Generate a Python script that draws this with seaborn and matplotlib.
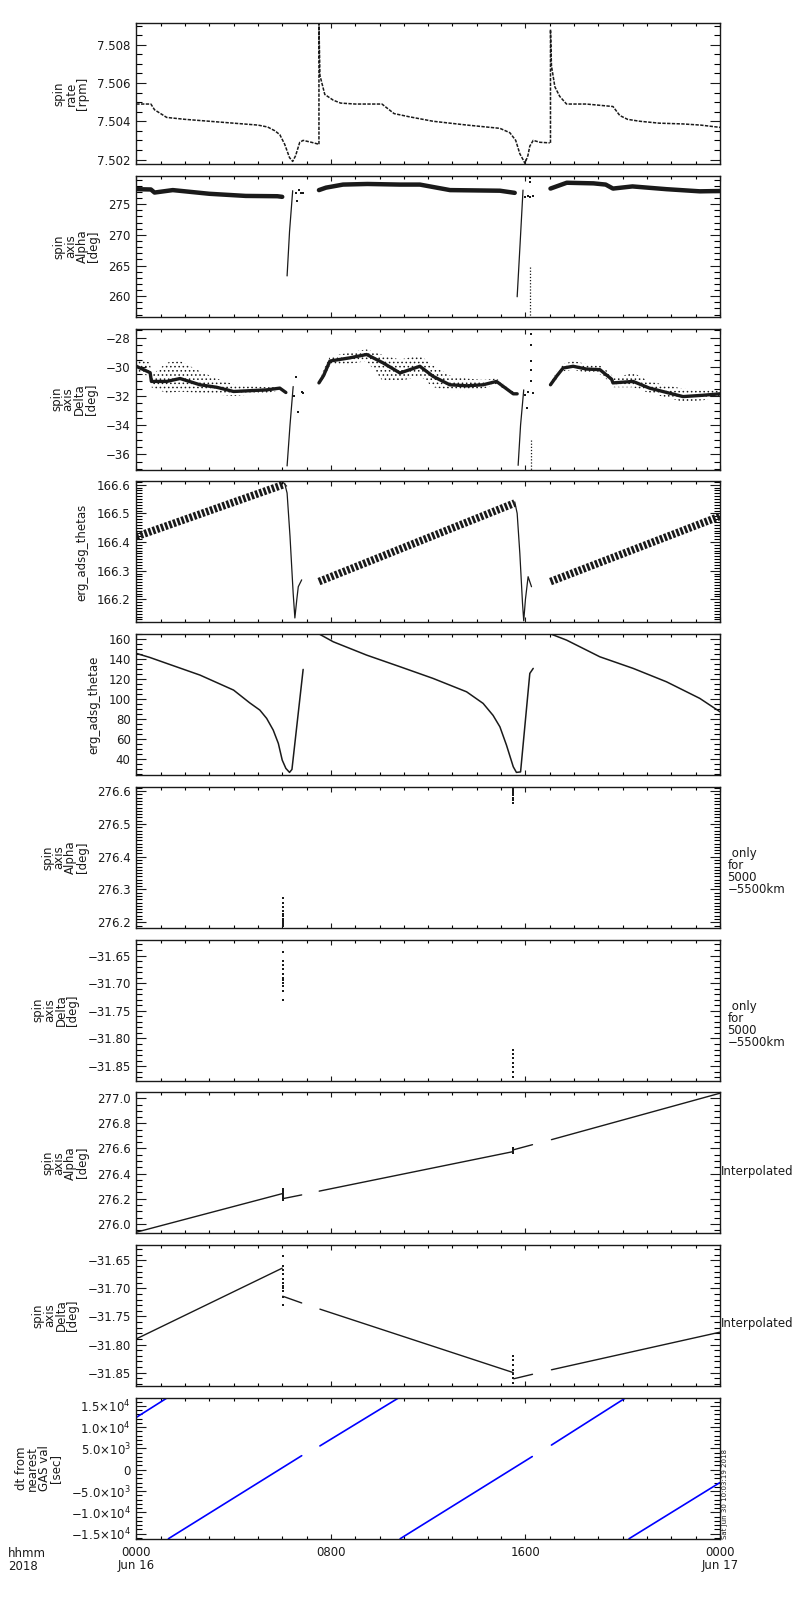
import matplotlib
matplotlib.use("Agg")
import matplotlib.pyplot as plt
import seaborn as sns
from matplotlib.ticker import MultipleLocator

sns.set_theme(style="white")
plt.rcParams["font.family"] = ["DejaVu Sans"]
plt.rcParams["hatch.linewidth"] = 0.6
for key in ("text.color", "axes.labelcolor", "xtick.color", "ytick.color", "axes.edgecolor"):
    plt.rcParams[key] = "black"

# ---------------- data (hours since 0000 Jun 16) ----------------
# panel 1: spin rate [rpm]
rate_t1 = [0, 0.6, 0.75, 1.0, 1.25, 2.0, 3.0, 4.0, 5.0, 5.4, 5.7, 5.9, 6.1, 6.3,
           6.43, 6.55, 6.72, 6.86, 7.2, 7.5]
rate_v1 = [7.5049, 7.5049, 7.5046, 7.5044, 7.5042, 7.5041, 7.5040, 7.5039, 7.5038,
           7.5037, 7.5035, 7.5033, 7.5028, 7.5021, 7.5019, 7.5022, 7.5029, 7.5030,
           7.5029, 7.5028]
rate_t2 = [7.51, 7.51, 7.55, 7.75, 8.1, 8.4, 9.0, 10.1, 10.3, 10.6, 11.2, 12.2, 13.6,
           14.95, 15.36, 15.6, 15.77, 15.9, 15.98, 16.1, 16.18, 16.32, 16.6, 17.0]
rate_v2 = [7.5028, 7.5091, 7.5064, 7.5054, 7.5051, 7.50495, 7.5049, 7.5049, 7.5047,
           7.5044, 7.50424, 7.5040, 7.5038, 7.50363, 7.5034, 7.5030, 7.5023, 7.5020,
           7.5018, 7.5022, 7.5027, 7.5030, 7.5029, 7.50287]
rate_t3 = [17.03, 17.03, 17.07, 17.21, 17.41, 17.69, 18.5, 19.6, 19.88, 20.2, 20.7,
           21.5, 22.47, 23.2, 24]
rate_v3 = [7.50287, 7.5088, 7.5069, 7.5058, 7.5053, 7.5049, 7.5049, 7.50477, 7.5043,
           7.5041, 7.5040, 7.5039, 7.50386, 7.5038, 7.50368]

# panel 2: spin axis alpha [deg]
alpha_t1 = [0, 0.6, 0.75, 1.5, 3.0, 4.5, 5.8, 6.0]
alpha_v1 = [277.45, 277.4, 276.9, 277.3, 276.7, 276.35, 276.3, 276.2]
alpha_jump_t1 = [6.2, 6.3, 6.43]
alpha_jump_v1 = [263.3, 270.5, 277.2]
alpha_dot_t1 = [6.55, 6.62, 6.7, 6.78, 6.85]
alpha_dot_v1 = [276.9, 275.6, 277.3, 276.8, 276.9]
alpha_t2 = [7.51, 7.8, 8.5, 9.5, 10.84, 11.66, 12.9, 14.95, 15.56]
alpha_v2 = [277.3, 277.7, 278.2, 278.3, 278.2, 278.2, 277.3, 277.2, 276.85]
alpha_jump_t2 = [15.66, 15.78, 15.9]
alpha_jump_v2 = [259.9, 268.5, 277.3]
alpha_dot_t2 = [16.0, 16.1, 16.2, 16.3, 16.2, 16.2]
alpha_dot_v2 = [276.2, 276.3, 276.1, 276.3, 279.2, 278.6]
alpha_drop_t = [16.2, 16.2]
alpha_drop_v = [264.8, 256.0]
alpha_t3 = [17.03, 17.7, 18.8, 19.3, 19.6, 20.4, 21.8, 23.17, 24]
alpha_v3 = [277.55, 278.5, 278.4, 278.2, 277.55, 277.9, 277.45, 277.1, 277.15]

# panel 3: spin axis delta [deg] (core and scatter envelope)
delta_t1 = [0, 0.57, 0.62, 1.25, 1.8, 2.62, 3.3, 4.0, 5.36, 5.9, 6.15]
delta_v1 = [-29.96, -30.4, -31.0, -31.0, -30.8, -31.23, -31.4, -31.69, -31.58, -31.46, -31.76]
delta_hi1 = [-29.5, -29.7, -30.6, -29.7, -29.6, -30.3, -30.8, -31.2, -31.4, -31.4, -31.7]
delta_lo1 = [-30.5, -30.6, -31.4, -31.8, -31.7, -31.8, -31.9, -32.0, -31.8, -31.6, -31.8]
delta_jump_t1 = [6.2, 6.32, 6.45]
delta_jump_v1 = [-36.8, -34.0, -31.35]
delta_dot_t1 = [6.5, 6.58, 6.65, 6.8, 6.86]
delta_dot_v1 = [-32.0, -30.7, -33.1, -31.7, -31.8]
delta_t2 = [7.51, 7.7, 7.96, 8.78, 9.47, 10.15, 10.84, 11.66, 12.2, 12.89, 13.6, 14.26,
            14.81, 15.5, 15.66]
delta_v2 = [-31.1, -30.6, -29.6, -29.38, -29.15, -29.73, -30.42, -29.96, -30.65, -31.23,
            -31.3, -31.23, -31.0, -31.85, -31.85]
delta_hi2 = [-31.0, -30.2, -29.3, -29.0, -28.8, -29.2, -29.5, -29.2, -29.9, -30.6, -30.8,
             -30.9, -30.8, -31.7, -31.8]
delta_lo2 = [-31.2, -30.8, -29.9, -29.8, -29.6, -31.0, -31.0, -30.6, -31.4, -31.6, -31.6,
             -31.5, -31.2, -31.9, -31.9]
delta_jump_t2 = [15.70, 15.8, 15.93]
delta_jump_v2 = [-36.76, -34.0, -31.58]
delta_dot_t2 = [16.0, 16.05, 16.1, 16.3, 16.21, 16.21, 16.21, 16.21, 16.21]
delta_dot_v2 = [-31.9, -32.8, -31.7, -31.8, -27.77, -28.5, -29.6, -30.2, -31.0]
delta_drop_t = [16.21, 16.21]
delta_drop_v = [-35.0, -37.1]
delta_t3 = [17.03, 17.3, 17.55, 17.96, 18.51, 19.06, 19.54, 19.6, 20.43, 21.1, 22.48, 23.3, 24]
delta_v3 = [-31.23, -30.6, -30.08, -29.96, -30.15, -30.19, -30.84, -31.1, -31.0, -31.46,
            -32.04, -31.95, -31.85]
delta_hi3 = [-31.1, -30.3, -29.8, -29.6, -29.8, -29.9, -30.5, -30.8, -30.4, -31.0, -31.5,
             -31.6, -31.6]
delta_lo3 = [-31.3, -30.8, -30.3, -30.2, -30.4, -30.5, -31.1, -31.4, -31.4, -31.8, -32.4,
             -32.3, -32.0]

# panel 4: erg_adsg_thetas
thetas_t1 = [0, 6.04, 6.1]
thetas_v1 = [166.419, 166.600, 166.605]
thetas_drop_t1 = [6.1, 6.2, 6.32, 6.45, 6.52, 6.6, 6.66, 6.8]
thetas_drop_v1 = [166.605, 166.571, 166.42, 166.221, 166.135, 166.2, 166.244, 166.268]
thetas_t2 = [7.51, 15.56]
thetas_v2 = [166.262, 166.536]
thetas_drop_t2 = [15.56, 15.66, 15.77, 15.88, 15.93, 16.0, 16.11, 16.25]
thetas_drop_v2 = [166.54, 166.50, 166.36, 166.186, 166.125, 166.2, 166.279, 166.244]
thetas_t3 = [17.03, 24]
thetas_v3 = [166.262, 166.49]

# panel 5: erg_adsg_thetae
thetae_t1 = [0, 0.55, 1.25, 2.62, 4.0, 4.66, 5.08, 5.36, 5.63, 5.84, 6.0, 6.15, 6.3, 6.4, 6.86]
thetae_v1 = [146, 142, 136, 124.3, 109.3, 96.6, 89.3, 81, 69.3, 56, 39.3, 31, 27, 30, 130]
thetae_t2 = [7.51, 8.1, 9.47, 10.84, 12.2, 13.58, 14.26, 14.67, 14.95, 15.22, 15.5, 15.63,
             15.8, 16.18, 16.32]
thetae_v2 = [165.5, 157.6, 144.3, 132.7, 121, 107.6, 96, 84, 72.6, 54.3, 32.6, 27, 27.5,
             126, 131]
thetae_t3 = [17.03, 17.69, 19.06, 20.43, 21.8, 23.17, 24]
thetae_v3 = [165.5, 159.3, 142.6, 131, 117.6, 101, 87.6]

# panels 6/7: raw values only for 5000-5500 km
gas_t1 = 6.02
gas_t2 = 15.5
gas_alpha1 = [276.275, 276.26, 276.245, 276.235, 276.225, 276.22, 276.21, 276.205,
              276.2, 276.195, 276.19]
gas_alpha2 = [276.607, 276.60, 276.595, 276.588, 276.58, 276.572, 276.565]
gas_delta1 = [-31.643, -31.66, -31.668, -31.675, -31.683, -31.69, -31.695, -31.70,
              -31.705, -31.715, -31.73]
gas_delta2 = [-31.82, -31.828, -31.836, -31.845, -31.852, -31.86, -31.869]

# panels 8/9: interpolated
ialpha_t = [[0, 6.0], [6.02, 6.8], [7.52, 15.5], [15.52, 16.29], [17.07, 24]]
ialpha_v = [[275.933, 276.24], [276.2, 276.23], [276.26, 276.575], [276.59, 276.63],
            [276.67, 277.04]]
idelta_t = [[0, 6.0], [6.02, 6.8], [7.55, 15.5], [15.52, 16.29], [17.07, 24]]
idelta_v = [[-31.79, -31.664], [-31.714, -31.726], [-31.737, -31.85], [-31.861, -31.853],
            [-31.845, -31.778]]

# panel 10: dt from nearest GAS value [sec]
dt_t = [[0, 1.30], [1.32, 6.80], [7.55, 10.82], [10.85, 16.28], [17.07, 20.15], [20.26, 24]]
dt_v = [[12300, 17000], [-16200, 3300], [5600, 17000], [-16200, 3100], [5800, 17000],
        [-16200, -3000]]

# axis ranges and ticks
ylims = [(7.50175, 7.50912), (256.6, 279.6), (-37.06, -27.38), (166.1195, 166.6116),
         (24.3, 165.3), (276.183, 276.6134), (-31.876, -31.621), (275.925, 277.048),
         (-31.8737, -31.6226), (-16175, 16950)]
yticks = [[7.502, 7.504, 7.506, 7.508], [260, 265, 270, 275], [-36, -34, -32, -30, -28],
          [166.2, 166.3, 166.4, 166.5, 166.6], [40, 60, 80, 100, 120, 140, 160],
          [276.2, 276.3, 276.4, 276.5, 276.6], [-31.85, -31.80, -31.75, -31.70, -31.65],
          [276.0, 276.2, 276.4, 276.6, 276.8, 277.0], [-31.85, -31.80, -31.75, -31.70, -31.65],
          [-15000, -10000, -5000, 0, 5000, 10000, 15000]]
ytick_labels = [["7.502", "7.504", "7.506", "7.508"], ["260", "265", "270", "275"],
                ["\u221236", "\u221234", "\u221232", "\u221230", "\u221228"],
                ["166.2", "166.3", "166.4", "166.5", "166.6"],
                ["40", "60", "80", "100", "120", "140", "160"],
                ["276.2", "276.3", "276.4", "276.5", "276.6"],
                ["\u221231.85", "\u221231.80", "\u221231.75", "\u221231.70", "\u221231.65"],
                ["276.0", "276.2", "276.4", "276.6", "276.8", "277.0"],
                ["\u221231.85", "\u221231.80", "\u221231.75", "\u221231.70", "\u221231.65"],
                [r"$-$1.5$\times$10$^4$", r"$-$1.0$\times$10$^4$", r"$-$5.0$\times$10$^3$", "0",
                 r"5.0$\times$10$^3$", r"1.0$\times$10$^4$", r"1.5$\times$10$^4$"]]
yminor = [0.0005, 1, 0.5, 0.01, 5, 0.01, 0.01, 0.05, 0.01, 1000]
ylabels = ["spin\nrate\n[rpm]", "spin\naxis\nAlpha\n[deg]", "spin\naxis\nDelta\n[deg]",
           "erg_adsg_thetas", "erg_adsg_thetae", "spin\naxis\nAlpha\n[deg]",
           "spin\naxis\nDelta\n[deg]", "spin\naxis\nAlpha\n[deg]", "spin\naxis\nDelta\n[deg]",
           "dt from\nnearest\nGAS val\n[sec]"]
xticks = [0, 8, 16, 24]
xtick_labels = ["0000\nJun 16", "0800", "1600", "0000\nJun 17"]

FS = 8.5


def line(ax, t, v, lw=0.9, color="k", **kw):
    sns.lineplot(x=t, y=v, ax=ax, color=color, linewidth=lw, estimator=None,
                 sort=False, **kw)


def dots(ax, t, v, s=2.5):
    sns.scatterplot(x=t, y=v, ax=ax, color="k", s=s, marker="s", linewidth=0)


fig = plt.figure(figsize=(8, 16), dpi=100)
axes = []
for i in range(10):
    top = 23.3 + i * 152.7
    ax = fig.add_axes([136.3 / 800, 1 - (top + 141) / 1600, 583.7 / 800, 141 / 1600])
    axes.append(ax)

# panel 1
ax = axes[0]
for t, v in [(rate_t1, rate_v1), (rate_t2, rate_v2), (rate_t3, rate_v3)]:
    line(ax, t, v, lw=1.1, linestyle=(0, (2.2, 0.9)))

# panel 2
ax = axes[1]
for t, v in [(alpha_t1, alpha_v1), (alpha_t2, alpha_v2), (alpha_t3, alpha_v3)]:
    line(ax, t, v, lw=3.2)
line(ax, alpha_jump_t1, alpha_jump_v1)
line(ax, alpha_jump_t2, alpha_jump_v2)
line(ax, alpha_drop_t, alpha_drop_v, lw=0.9, linestyle=(0, (1, 1.5)))
dots(ax, alpha_dot_t1, alpha_dot_v1)
dots(ax, alpha_dot_t2, alpha_dot_v2)

# panel 3
ax = axes[2]
for t, v, lo, hi in [(delta_t1, delta_v1, delta_lo1, delta_hi1),
                     (delta_t2, delta_v2, delta_lo2, delta_hi2),
                     (delta_t3, delta_v3, delta_lo3, delta_hi3)]:
    ax.fill_between(t, lo, hi, facecolor="none", edgecolor="k", hatch="....", linewidth=0)
    line(ax, t, v, lw=2.4)
line(ax, delta_jump_t1, delta_jump_v1)
line(ax, delta_jump_t2, delta_jump_v2)
line(ax, delta_drop_t, delta_drop_v, lw=0.9, linestyle=(0, (1, 1.5)))
dots(ax, delta_dot_t1, delta_dot_v1)
dots(ax, delta_dot_t2, delta_dot_v2)

# panel 4
ax = axes[3]
for t, v in [(thetas_t1, thetas_v1), (thetas_t2, thetas_v2), (thetas_t3, thetas_v3)]:
    line(ax, t, v, lw=5.5, linestyle=(0, (0.35, 0.22)))
line(ax, thetas_drop_t1, thetas_drop_v1, lw=0.9)
line(ax, thetas_drop_t2, thetas_drop_v2, lw=0.9)

# panel 5
ax = axes[4]
for t, v in [(thetae_t1, thetae_v1), (thetae_t2, thetae_v2), (thetae_t3, thetae_v3)]:
    line(ax, t, v, lw=1.1)

# panels 6 and 7
dots(axes[5], [gas_t1] * len(gas_alpha1), gas_alpha1, s=1.5)
dots(axes[5], [gas_t2] * len(gas_alpha2), gas_alpha2, s=1.5)
dots(axes[6], [gas_t1] * len(gas_delta1), gas_delta1, s=1.5)
dots(axes[6], [gas_t2] * len(gas_delta2), gas_delta2, s=1.5)

# panels 8 and 9
for t, v in zip(ialpha_t, ialpha_v):
    line(axes[7], t, v, lw=1.0)
for t, v in zip(idelta_t, idelta_v):
    line(axes[8], t, v, lw=1.0)
dots(axes[7], [gas_t1] * len(gas_alpha1), gas_alpha1, s=1.5)
dots(axes[7], [gas_t2] * len(gas_alpha2), gas_alpha2, s=1.5)
dots(axes[8], [gas_t1] * len(gas_delta1), gas_delta1, s=1.5)
dots(axes[8], [gas_t2] * len(gas_delta2), gas_delta2, s=1.5)

# panel 10
for t, v in zip(dt_t, dt_v):
    line(axes[9], t, v, lw=1.2, color="#0000ff")

for i, ax in enumerate(axes):
    ax.set_xlim(0, 24)
    ax.set_ylim(*ylims[i])
    ax.set_xticks(xticks)
    ax.xaxis.set_minor_locator(MultipleLocator(1))
    ax.set_yticks(yticks[i])
    ax.set_yticklabels(ytick_labels[i], fontsize=FS)
    ax.yaxis.set_minor_locator(MultipleLocator(yminor[i]))
    ax.tick_params(axis="y", which="major", direction="in", length=7, width=0.8,
                   left=True, right=True, pad=4, colors="k")
    ax.tick_params(axis="y", which="minor", direction="in", length=4.3, width=0.8,
                   left=True, right=True)
    ax.tick_params(axis="x", which="major", direction="in", length=3.6, width=0.8,
                   top=True, bottom=True, pad=5, colors="k")
    ax.tick_params(axis="x", which="minor", direction="in", length=2, width=0.8,
                   top=True, bottom=True)
    if i < 9:
        ax.set_xticklabels([])
    else:
        ax.set_xticklabels(xtick_labels, fontsize=FS, linespacing=1.0)
    ax.set_xlabel("")
    ax.set_ylabel(ylabels[i], fontsize=FS, linespacing=0.85, labelpad=6, color="k")
    for sp in ax.spines.values():
        sp.set_color("k")
        sp.set_linewidth(1.0)

for i in (5, 6):
    axes[i].text(1.013, 0.40, " only\nfor\n5000\n\u22125500km", transform=axes[i].transAxes,
                 ha="left", va="center", fontsize=FS, linespacing=0.9, color="k")
for i in (7, 8):
    axes[i].text(1.002, 0.44, "Interpolated", transform=axes[i].transAxes,
                 ha="left", va="center", fontsize=FS, color="k")

fig.text(8.3 / 800, 1 - 1547 / 1600, "hhmm\n2018", ha="left", va="top", fontsize=FS,
         linespacing=1.0, color="k")
fig.text(724.5 / 800, 1 - 1539 / 1600, "Sat Jun 30 10:03:19 2018", rotation=90,
         ha="center", va="bottom", fontsize=5, color="k")

fig.savefig("out.png", dpi=100)
